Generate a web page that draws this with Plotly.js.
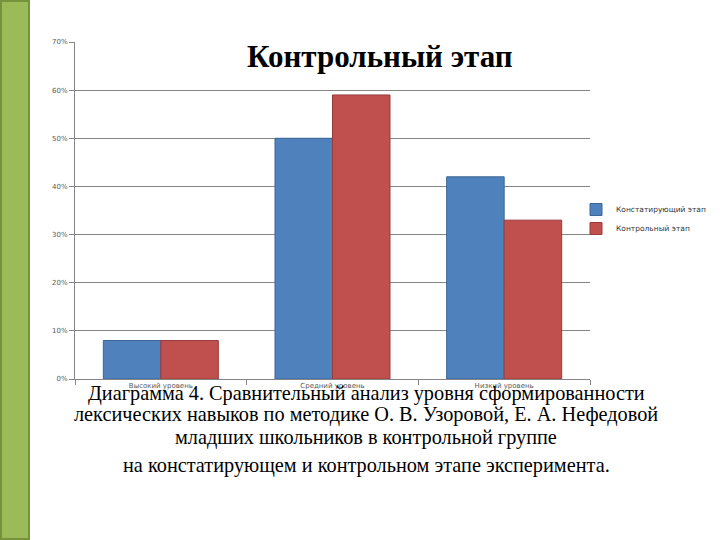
<!DOCTYPE html>
<html>
<head>
<meta charset="utf-8">
<script src="https://cdn.plot.ly/plotly-3.0.1.min.js"></script>
<style>html,body{margin:0;padding:0;background:#fff;}#chart{width:720px;height:540px;}</style>
</head>
<body>
<div id="chart"></div>
<script>
const categories = ["Высокий уровень", "Средний уровень", "Низкий уровень"];
const seriesNames = ["Констатирующий этап", "Контрольный этап"];
const stageA = [0.08, 0.50, 0.42];
const stageB = [0.08, 0.59, 0.33];
const yTicks = [0, 0.1, 0.2, 0.3, 0.4, 0.5, 0.6, 0.7];
const yTickText = ["0%", "10%", "20%", "30%", "40%", "50%", "60%", "70%"];
const chartTitle = "Контрольный этап";
const captionLines = [
  "Диаграмма 4. Сравнительный анализ уровня сформированности",
  "лексических навыков по методике О. В. Узоровой, Е. А. Нефедовой",
  "младших школьников в контрольной группе",
  "на констатирующем и контрольном этапе эксперимента."
];

const W = 720, H = 540;
const mL = 75, mR = 130, mT = 42, mB = 161;
const pw = W - mL - mR, ph = H - mT - mB;
const px = x => (x - mL) / pw;
const py = y => (H - mB - y) / ph;

const traces = [
  {type: "bar", name: seriesNames[0], x: categories, y: stageA,
   marker: {color: "#4F81BD", line: {color: "#3A6598", width: 1}}},
  {type: "bar", name: seriesNames[1], x: categories, y: stageB,
   marker: {color: "#C0504D", line: {color: "#973C3A", width: 1}}}
];

const captionY = [393, 415, 437, 465];
const annotations = captionLines.map((t, i) => ({
  text: t, xref: "paper", yref: "paper", x: px(366), y: py(captionY[i]),
  xanchor: "center", yanchor: "middle", showarrow: false,
  font: {family: "Liberation Serif, Times New Roman, serif", size: 20.3, color: "#000"}
}));
annotations.push({
  text: "<b>" + chartTitle + "</b>", xref: "paper", yref: "paper",
  x: px(380), y: py(57), xanchor: "center", yanchor: "middle", showarrow: false,
  font: {family: "Liberation Serif, Times New Roman, serif", size: 31, color: "#000"}
});

const layout = {
  width: W, height: H,
  margin: {l: mL, r: mR, t: mT, b: mB, pad: 0, autoexpand: false},
  paper_bgcolor: "#fff", plot_bgcolor: "#fff",
  barmode: "group", bargap: 0.33, bargroupgap: 0,
  showlegend: true,
  legend: {x: px(576), y: py(219), xanchor: "left", yanchor: "middle",
    font: {family: "DejaVu Sans, sans-serif", size: 7.5, color: "#333"},
    itemwidth: 30, tracegroupgap: 0, bgcolor: "rgba(0,0,0,0)"},
  xaxis: {type: "category", showline: true, linecolor: "#868686", linewidth: 1,
    ticks: "outside", tickson: "boundaries", ticklen: 5, tickcolor: "#868686",
    tickfont: {family: "DejaVu Sans, sans-serif", size: 7, color: "#595959"},
    showgrid: false, zeroline: false, automargin: false},
  yaxis: {range: [0, 0.7], tickvals: yTicks, ticktext: yTickText,
    showline: true, linecolor: "#868686", linewidth: 1,
    ticks: "outside", ticklen: 5, tickcolor: "#868686",
    tickfont: {family: "DejaVu Sans, sans-serif", size: 7, color: "#595959"},
    showgrid: true, gridcolor: "#868686", gridwidth: 1, zeroline: false, automargin: false},
  annotations: annotations,
  shapes: [{type: "rect", xref: "paper", yref: "paper",
    x0: px(1), x1: px(29), y0: py(539), y1: py(1),
    fillcolor: "#9BBB59", line: {color: "#76923C", width: 2}, layer: "above"}]
};

Plotly.newPlot("chart", traces, layout, {displayModeBar: false, staticPlot: true});
</script>
</body>
</html>
